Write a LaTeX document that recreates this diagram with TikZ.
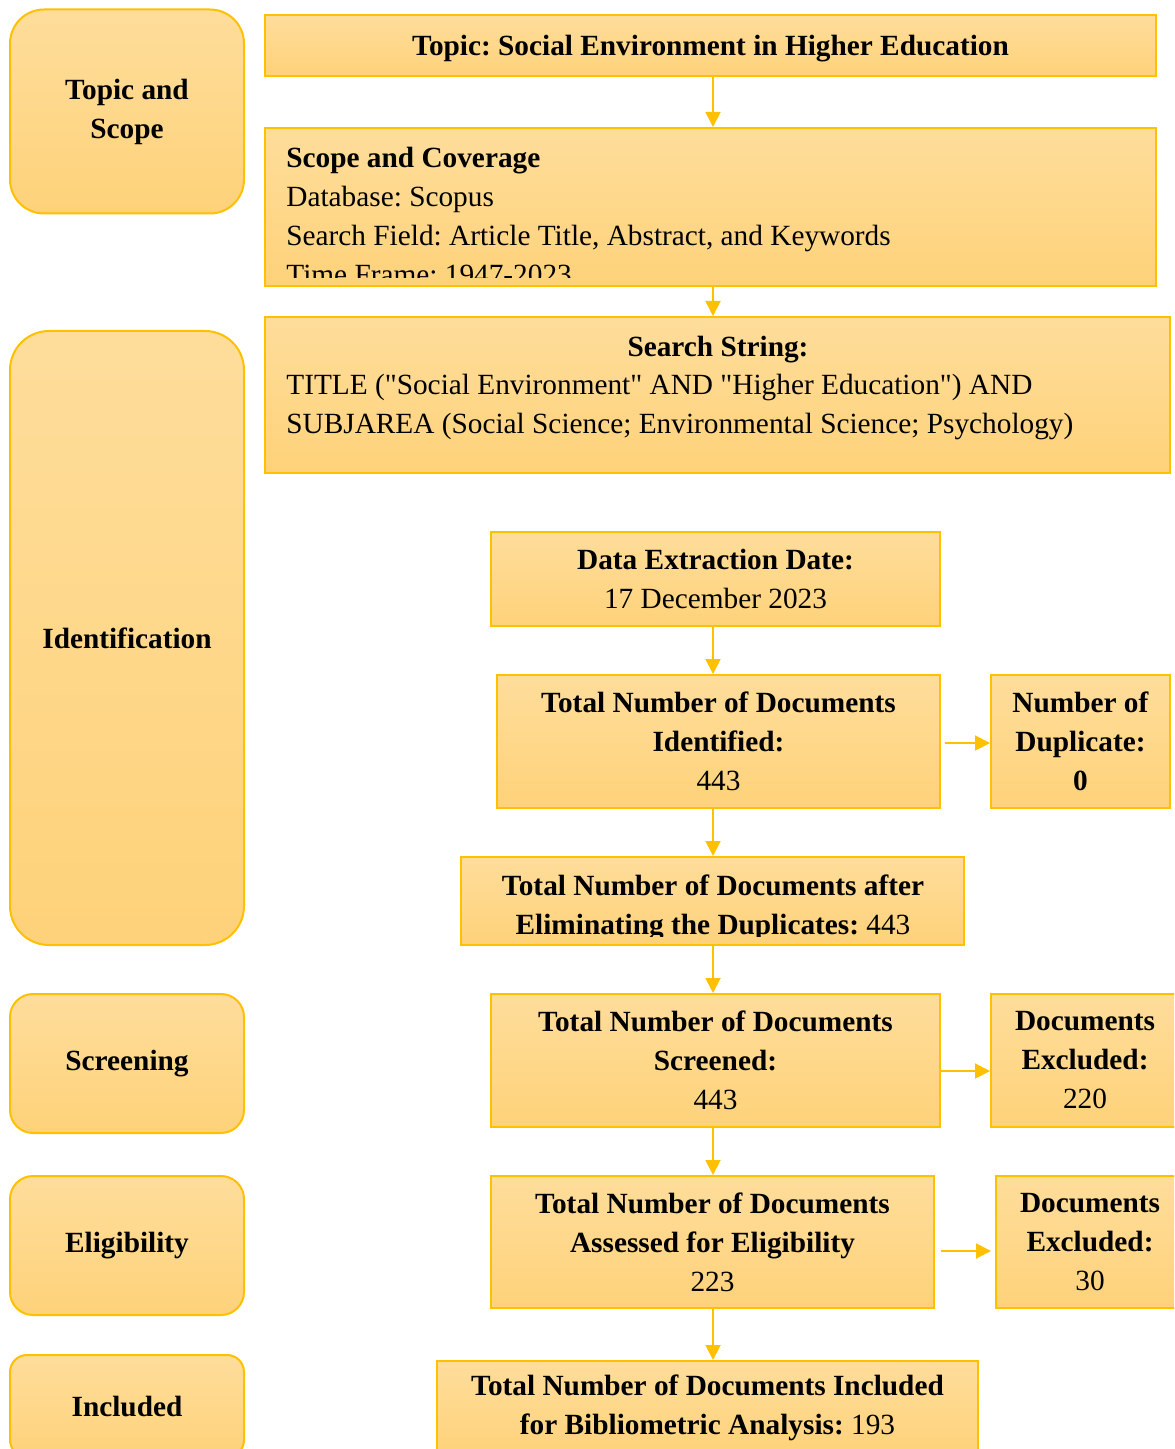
\documentclass[tikz,border=0pt]{standalone}
\usepackage{fontspec}
\setmainfont{Liberation Serif}
\usetikzlibrary{arrows.meta}
\definecolor{prisma-gold}{HTML}{FFC000}
\definecolor{prisma-top}{HTML}{FEDD9B}
\definecolor{prisma-bottom}{HTML}{FED27A}
\frenchspacing

\begin{document}
\begin{tikzpicture}[x=0.5pt, y=-0.5pt,
    every node/.style={font=\fontsize{14.65}{19.5}\selectfont},
    stage/.style={draw=prisma-gold, line width=1pt, top color=prisma-top,
      bottom color=prisma-bottom, minimum width=117pt, align=center,
      font=\fontsize{14.65}{19.5}\selectfont\bfseries},
    box/.style={draw=prisma-gold, line width=1pt, top color=prisma-top,
      bottom color=prisma-bottom, align=center, inner sep=0pt},
    flow/.style={-{Triangle[length=7.5pt, width=7.5pt]}, prisma-gold,
      line width=0.9pt}]
  \useasboundingbox (0,0) rectangle (1174,1449);
  \clip (0,0) rectangle (1174,1449);

  % stages on the left
  \node[stage, rounded corners=17pt, minimum height=102pt]
        (TopicStage) at (127,111.5) {Topic and\\Scope};
  \node[stage, rounded corners=19.5pt, minimum height=307pt]
        (IdentStage) at (127,638) {Identification};
  \node[stage, rounded corners=11.5pt, minimum height=69.5pt]
        (ScreenStage) at (127,1063.5) {Screening};
  \node[stage, rounded corners=11.5pt, minimum height=69.5pt]
        (EligStage) at (127,1245.5) {Eligibility};
  \node[stage, rounded corners=8.5pt, minimum height=51pt]
        (InclStage) at (127,1406) {Included};

  % flow boxes
  \node[box, minimum width=445.5pt, minimum height=30.5pt, text depth=0pt]
        (Topic) at (710.5,45.5)
        {\textbf{Topic: Social Environment in Higher Education}};
  \node[box, minimum width=445.5pt, minimum height=79pt]
        (Scope) at (710.5,207) {};
  \begin{scope}
    \clip (Scope.north west) rectangle ([yshift=4.5pt]Scope.south east);
    \node[anchor=north west, inner sep=0pt, align=left]
          (ScopeText) at (286,147)
          {\textbf{Scope and Coverage}\\
           Database: Scopus\\
           Search Field: Article Title, Abstract, and Keywords\\
           Time Frame: 1947-2023};
  \end{scope}
  \node[box, minimum width=452.5pt, minimum height=78pt]
        (Search) at (717.5,395) {};
  \node[anchor=north, inner sep=0pt] (SearchHead) at (718,336)
        {\textbf{Search String:}};
  \node[anchor=north west, inner sep=0pt, align=left]
        (SearchText) at (286,374)
        {TITLE (\textquotedbl Social Environment\textquotedbl{} AND
         \textquotedbl Higher Education\textquotedbl) AND\\
         SUBJAREA (Social Science; Environmental Science; Psychology)};
  \node[box, minimum width=224.5pt, minimum height=47pt]
        (Data) at (715.5,579)
        {\textbf{Data Extraction Date:}\\17 December 2023};
  \node[box, minimum width=221.5pt, minimum height=66.5pt]
        (Ident) at (718.5,741.5)
        {\textbf{Total Number of Documents}\\\textbf{Identified:}\\443};
  \node[box, minimum width=89.5pt, minimum height=66.5pt]
        (Dup) at (1080.5,741.5)
        {\textbf{Number of}\\\textbf{Duplicate:}\\\textbf{0}};
  \node[box, minimum width=251.5pt, minimum height=44pt]
        (After) at (712.5,901) {};
  \begin{scope}
    \clip (After.north west) rectangle ([yshift=5pt]After.south east);
    \node[inner sep=0pt, align=center] (AfterText) at (713,908)
          {\textbf{Total Number of Documents after}\\
           \textbf{Eliminating the Duplicates:} 443};
  \end{scope}
  \node[box, minimum width=224.5pt, minimum height=66.5pt]
        (Scr) at (715.5,1060.5)
        {\textbf{Total Number of Documents}\\\textbf{Screened:}\\443};
  \node[box, minimum width=94pt, minimum height=66.5pt]
        (ExcA) at (1085,1060.5)
        {\textbf{Documents}\\\textbf{Excluded:}\\220};
  \node[box, minimum width=221.5pt, minimum height=66pt]
        (Elig) at (712.5,1242)
        {\textbf{Total Number of Documents}\\
         \textbf{Assessed for Eligibility}\\223};
  \node[box, minimum width=94pt, minimum height=66pt]
        (ExcB) at (1090,1242)
        {\textbf{Documents}\\\textbf{Excluded:}\\30};
  \node[box, minimum width=270.5pt, minimum height=47pt]
        (Incl) at (707.5,1408)
        {\textbf{Total Number of Documents Included}\\
         \textbf{for Bibliometric Analysis:} 193};

  % connectors
  \coordinate (spine) at (713,0);
  \draw[flow] (Topic.south -| spine) -- (Scope.north -| spine);
  \draw[flow] (Scope.south -| spine) -- (Search.north -| spine);
  \draw[flow] (Data.south -| spine) -- (Ident.north -| spine);
  \draw[flow] (Ident.south -| spine) -- (After.north -| spine);
  \draw[flow] (After.south -| spine) -- (Scr.north -| spine);
  \draw[flow] (Scr.south -| spine) -- (Elig.north -| spine);
  \draw[flow] (Elig.south -| spine) -- (Incl.north -| spine);
  \draw[flow] ([shift={(2pt,-0.75pt)}]Ident.east)
        -- ([yshift=-0.75pt]Ident.east -| Dup.west);
  \draw[flow] ([shift={(0pt,-5.25pt)}]Scr.east)
        -- ([yshift=-5.25pt]Scr.east -| ExcA.west);
  \draw[flow] ([shift={(3pt,-4.5pt)}]Elig.east)
        -- ([shift={(-2pt,-4.5pt)}]Elig.east -| ExcB.west);
\end{tikzpicture}
\end{document}
